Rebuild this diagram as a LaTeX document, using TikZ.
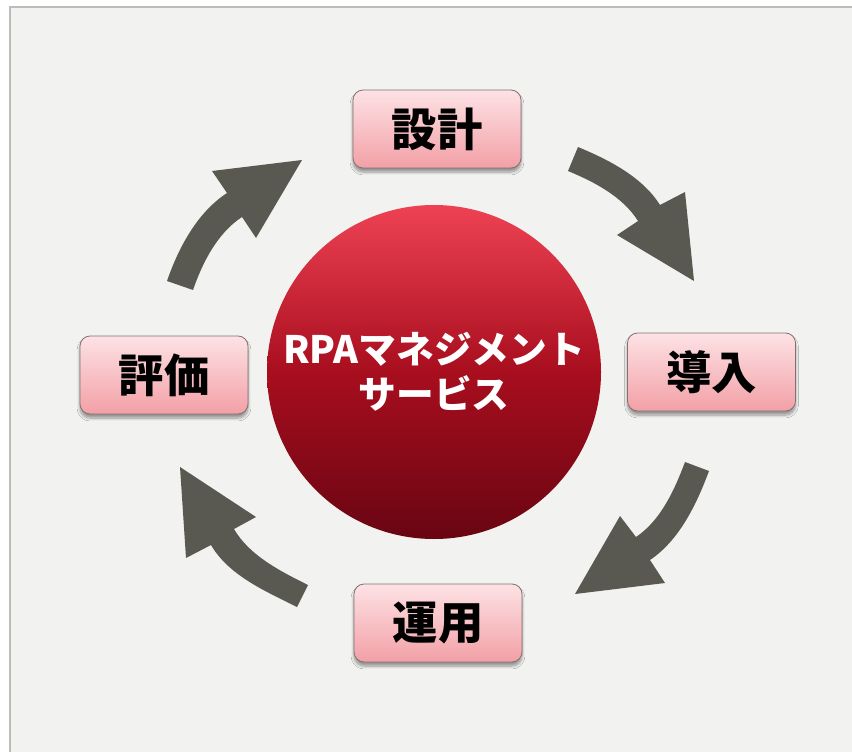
\documentclass[tikz,border=0pt]{standalone}
\usepackage{fontspec}
\setmainfont{Noto Sans CJK JP}
\usetikzlibrary{shadows.blur}
\definecolor{bgc}{RGB}{242,242,240}
\definecolor{framec}{RGB}{188,188,186}
\definecolor{arrowc}{RGB}{90,89,81}
\definecolor{boxtop}{RGB}{253,226,229}
\definecolor{boxbot}{RGB}{242,160,166}
\definecolor{boxline}{RGB}{130,112,112}
\definecolor{ctop}{RGB}{238,66,84}
\definecolor{cmid}{RGB}{168,14,30}
\definecolor{cbot}{RGB}{105,5,18}
\tikzset{
  stagebox/.style={draw=boxline, line width=0.6pt, rounded corners=7.5pt,
    top color=boxtop, bottom color=boxbot,
    minimum width=126pt, minimum height=58.5pt, inner sep=0pt,
    font=\fontsize{34pt}{36pt}\selectfont\bfseries, text=black,
    blur shadow={shadow xshift=0pt, shadow yshift=-3pt, shadow blur steps=6, shadow opacity=40}},
  hub/.style={circle, minimum size=250.5pt, inner sep=0pt,
    top color=ctop, bottom color=cbot, middle color=cmid,
    text=white, align=center,
    font=\fontsize{28.3pt}{33.75pt}\selectfont\bfseries},
  cyclearrow/.style={fill=arrowc, draw=none}
}
\begin{document}
\begin{tikzpicture}[x=0.75pt,y=-0.75pt]
\useasboundingbox (0,0) rectangle (852,752);
\clip (0,0) rectangle (852,752);
\fill[white] (0,0) rectangle (852,752);
\draw[framec, line width=1.5pt, fill=bgc] (10,7) rectangle (870,770);

% arrows
\fill[cyclearrow] (578,147) .. controls (608.9,159.9) and (642.1,176.7) .. (660,205)
  -- (685,192) -- (694,281) -- (617,235) -- (638,221)
  .. controls (622.7,196.7) and (594.5,182.0) .. (568,171) -- cycle;
\fill[cyclearrow] (709,471) .. controls (696.5,504.4) and (679.5,540.1) .. (650,560)
  -- (665,583) -- (575,594) -- (620,516) -- (636,537)
  .. controls (660.8,520.3) and (674.5,490.0) .. (685,462) -- cycle;
\fill[cyclearrow] (297,607) .. controls (265.4,591.2) and (228.8,575.5) .. (211,545)
  -- (186,558) -- (180,467) -- (256,517) -- (234,529)
  .. controls (249.5,555.7) and (280.4,571.2) .. (308,585) -- cycle;
\fill[cyclearrow] (167,281) .. controls (178.6,247.5) and (197.3,212.4) .. (227,193)
  -- (212,171) -- (302,160) -- (256,238) -- (242,217)
  .. controls (217.5,233.0) and (202.6,262.3) .. (193,290) -- cycle;

% hub
\node[hub] (center) at (434,372) {RPAマネジメント\\サービス};

% stages
\node[stagebox] (design) at (437,129) {設計};
\node[stagebox] (intro) at (711.5,372) {導入};
\node[stagebox] (ops) at (438,623) {運用};
\node[stagebox] (eval) at (164,375) {評価};
\end{tikzpicture}
\end{document}
